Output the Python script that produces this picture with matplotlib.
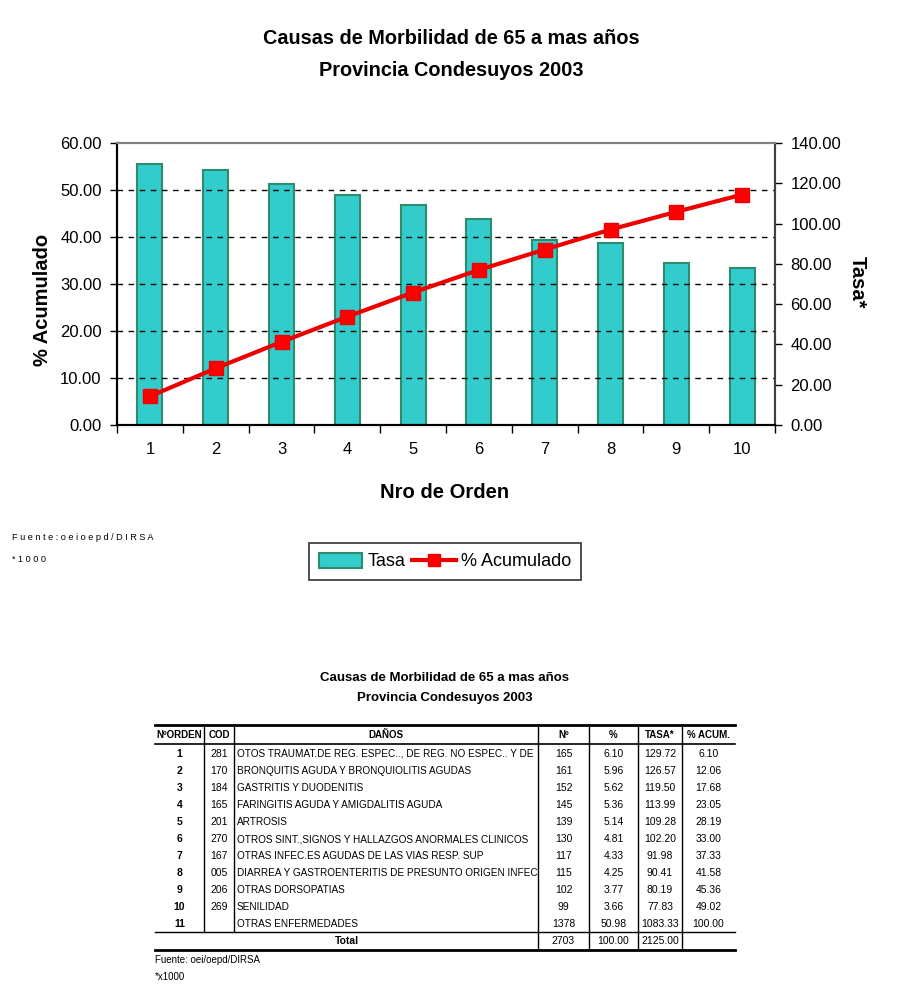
import matplotlib
matplotlib.use("Agg")
import matplotlib.pyplot as plt
from matplotlib.patches import Patch
from matplotlib.lines import Line2D

plt.rcParams['font.family'] = ['Liberation Sans', 'DejaVu Sans']

# ---------------- data ----------------
orden = [1, 2, 3, 4, 5, 6, 7, 8, 9, 10]
tasa = [129.72, 126.57, 119.50, 113.99, 109.28, 102.20, 91.98, 90.41, 80.19, 77.83]
acum = [6.10, 12.06, 17.68, 23.05, 28.19, 33.00, 37.33, 41.58, 45.36, 49.02]

tab_orden = ["1", "2", "3", "4", "5", "6", "7", "8", "9", "10", "11"]
tab_cod = ["281", "170", "184", "165", "201", "270", "167", "005", "206", "269", ""]
tab_danos = [
    "OTOS TRAUMAT.DE REG. ESPEC.., DE REG. NO ESPEC.. Y DE",
    "BRONQUITIS AGUDA Y BRONQUIOLITIS AGUDAS",
    "GASTRITIS Y DUODENITIS",
    "FARINGITIS AGUDA Y AMIGDALITIS AGUDA",
    "ARTROSIS",
    "OTROS SINT.,SIGNOS Y HALLAZGOS ANORMALES CLINICOS",
    "OTRAS INFEC.ES AGUDAS DE LAS VIAS RESP. SUP",
    "DIARREA Y GASTROENTERITIS DE PRESUNTO ORIGEN INFEC",
    "OTRAS DORSOPATIAS",
    "SENILIDAD",
    "OTRAS ENFERMEDADES",
]
tab_n = ["165", "161", "152", "145", "139", "130", "117", "115", "102", "99", "1378"]
tab_pct = ["6.10", "5.96", "5.62", "5.36", "5.14", "4.81", "4.33", "4.25", "3.77", "3.66", "50.98"]
tab_tasa = ["129.72", "126.57", "119.50", "113.99", "109.28", "102.20", "91.98", "90.41",
            "80.19", "77.83", "1083.33"]
tab_acum = ["6.10", "12.06", "17.68", "23.05", "28.19", "33.00", "37.33", "41.58",
            "45.36", "49.02", "100.00"]
total_row = ["2703", "100.00", "2125.00", ""]
headers = ["NºORDEN", "COD", "DAÑOS", "Nº", "%", "TASA*", "% ACUM."]

W, H = 900, 1000
fig = plt.figure(figsize=(9, 10), dpi=100)

# ---------------- chart ----------------
ax = fig.add_axes([117 / W, 1 - 425 / H, (775 - 117) / W, (425 - 143) / H])
ax2 = ax.twinx()

xs = list(range(len(orden)))
bar_face = '#33CCCC'
bar_edge = '#2E8B6B'
ax2.bar(xs, tasa, width=0.38, color=bar_face, edgecolor=bar_edge, linewidth=1.5, zorder=2)
ax.plot(xs, acum, color='#EE0000', lw=3, marker='s', markersize=10,
        markerfacecolor='#FF0000', markeredgecolor='#EE0000', zorder=5)

ax.set_zorder(ax2.get_zorder() + 1)
ax.patch.set_visible(False)

ax.set_xlim(-0.5, len(orden) - 0.5)
ax.set_ylim(0, 60)
ax2.set_ylim(0, 140)
ax.set_yticks([0, 10, 20, 30, 40, 50, 60])
ax.set_yticklabels([f"{v:.2f}" for v in [0, 10, 20, 30, 40, 50, 60]], fontsize=12)
ax2.set_yticks([0, 20, 40, 60, 80, 100, 120, 140])
ax2.set_yticklabels([f"{v:.2f}" for v in [0, 20, 40, 60, 80, 100, 120, 140]], fontsize=12)

ax.set_xticks(xs)
ax.set_xticklabels([str(o) for o in orden], fontsize=12)
ax.set_xticks([x - 0.5 for x in range(len(orden) + 1)], minor=True)
ax.tick_params(axis='x', which='major', length=0, pad=12)
ax.tick_params(axis='x', which='minor', length=6, direction='out', width=1)
ax.tick_params(axis='y', length=5, direction='out', width=1, pad=6)
ax2.tick_params(axis='y', length=5, direction='out', width=1, pad=6)

# dashed grid at left ticks
for v in [10, 20, 30, 40, 50]:
    ax.axhline(v, color='black', lw=1, ls=(0, (4, 4)), zorder=0)

for a in (ax, ax2):
    a.spines['top'].set_color('#808080')
    a.spines['top'].set_linewidth(1.5)
    a.spines['left'].set_color('black')
    a.spines['right'].set_color('#404040')
    a.spines['bottom'].set_color('black')
    a.spines['right'].set_linewidth(1.5)
    a.spines['left'].set_linewidth(1.5)
    a.spines['bottom'].set_linewidth(1.5)

fig.text(451 / W, 1 - 38 / H, "Causas de Morbilidad de 65 a mas años", ha='center', va='center',
         fontsize=14.3, fontweight='bold')
fig.text(451 / W, 1 - 70 / H, "Provincia Condesuyos 2003", ha='center', va='center',
         fontsize=14.3, fontweight='bold')
fig.text(42 / W, 1 - 300 / H, "% Acumulado", rotation=90, ha='center', va='center',
         fontsize=14.5, fontweight='bold')
fig.text(857 / W, 1 - 282 / H, "Tasa*", rotation=270, ha='center', va='center',
         fontsize=14.5, fontweight='bold')
fig.text(445 / W, 1 - 493 / H, "Nro de Orden", ha='center', va='center',
         fontsize=14.5, fontweight='bold')

fig.text(12 / W, 1 - 538 / H, " ".join("Fuente:oeioepd/DIRSA"), ha='left', va='center', fontsize=6.6)
fig.text(12 / W, 1 - 560 / H, " ".join("*1000"), ha='left', va='center', fontsize=6.6)

handles = [Patch(facecolor=bar_face, edgecolor=bar_edge, linewidth=1.5),
           Line2D([0], [0], color='#EE0000', lw=3, marker='s', markersize=9,
                  markerfacecolor='#FF0000', markeredgecolor='#EE0000')]
leg = fig.legend(handles, ["Tasa", "% Acumulado"], loc='center', ncol=2,
                 bbox_to_anchor=(445 / W, 1 - 561.5 / H), fontsize=13, frameon=True,
                 fancybox=False, edgecolor='black', handlelength=2.4, handletextpad=0.3,
                 columnspacing=0.4, borderpad=0.55, handleheight=0.9)
leg.get_frame().set_linewidth(1.2)

# ---------------- table ----------------
tax = fig.add_axes([0, 0, 1, 1])
tax.set_xlim(0, W)
tax.set_ylim(H, 0)
tax.axis('off')

tax.text(445, 678, "Causas de Morbilidad de 65 a mas años", ha='center', va='center',
         fontsize=9.5, fontweight='bold')
tax.text(445, 698, "Provincia Condesuyos 2003", ha='center', va='center',
         fontsize=9.5, fontweight='bold')

col_edges = [155, 204, 234, 538, 589, 638, 682, 735]
header_y = 735
row_y0 = 754
row_h = 17
fs = 7.5
fs_d = 7.2

centers = [(col_edges[i] + col_edges[i + 1]) / 2 for i in range(len(col_edges) - 1)]
for i, h in enumerate(headers):
    tax.text(centers[i], header_y, h, ha='center', va='center', fontsize=7, fontweight='bold')

for r in range(len(tab_orden)):
    y = row_y0 + r * row_h
    tax.text(centers[0], y, tab_orden[r], ha='center', va='center', fontsize=fs, fontweight='bold')
    tax.text(centers[1], y, tab_cod[r], ha='center', va='center', fontsize=fs)
    tax.text(col_edges[2] + 3, y, tab_danos[r], ha='left', va='center', fontsize=fs_d)
    tax.text(centers[3], y, tab_n[r], ha='center', va='center', fontsize=fs)
    tax.text(centers[4], y, tab_pct[r], ha='center', va='center', fontsize=fs)
    tax.text(centers[5], y, tab_tasa[r], ha='center', va='center', fontsize=fs)
    tax.text(centers[6], y, tab_acum[r], ha='center', va='center', fontsize=fs)

ty = row_y0 + len(tab_orden) * row_h
tax.text((col_edges[0] + col_edges[3]) / 2, ty, "Total", ha='center', va='center',
         fontsize=fs, fontweight='bold')
for i, v in enumerate(total_row):
    tax.text(centers[3 + i], ty, v, ha='center', va='center', fontsize=fs)

# lines
top = 725
hdr_bot = 744
tot_top = ty - 9
bot = ty + 9
tax.plot([col_edges[0], col_edges[-1]], [top, top], color='black', lw=2)
tax.plot([col_edges[0], col_edges[-1]], [hdr_bot, hdr_bot], color='black', lw=1.2)
tax.plot([col_edges[0], col_edges[-1]], [tot_top, tot_top], color='black', lw=1)
tax.plot([col_edges[0], col_edges[-1]], [bot, bot], color='black', lw=2)
for xe in col_edges[1:3]:
    tax.plot([xe, xe], [top, tot_top], color='black', lw=1)
for xe in col_edges[3:7]:
    tax.plot([xe, xe], [top, bot], color='black', lw=1)

tax.text(155, 960, "Fuente: oei/oepd/DIRSA", ha='left', va='center', fontsize=7)
tax.text(155, 977, "*x1000", ha='left', va='center', fontsize=7)

fig.savefig("out.png", dpi=100)
